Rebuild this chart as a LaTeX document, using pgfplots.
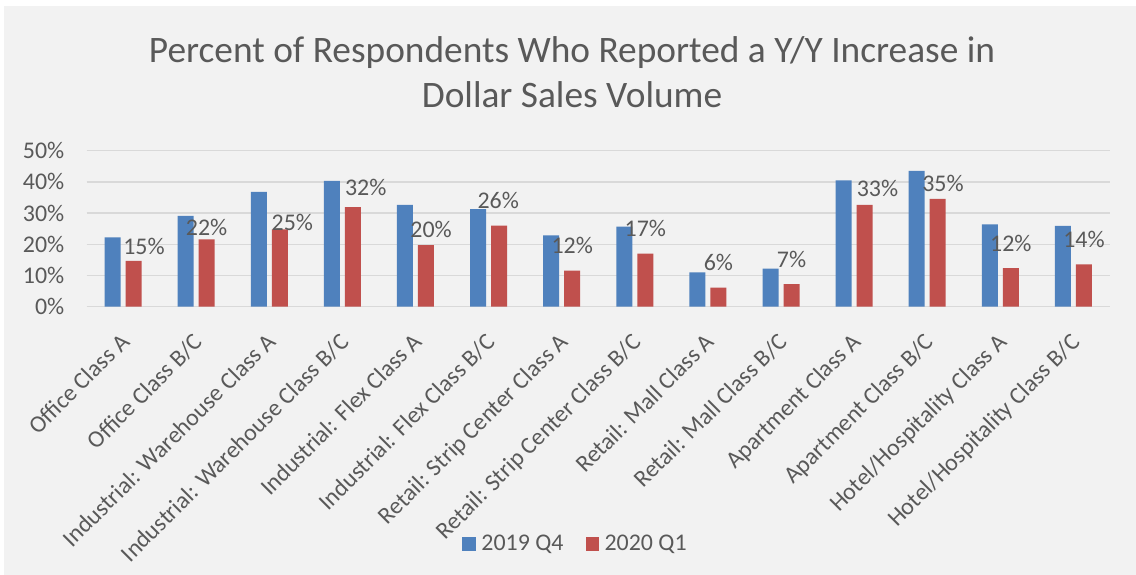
\documentclass[border=0pt]{standalone}
\usepackage{fontspec}
\setmainfont{Carlito}
\usepackage{pgfplots}
\usepackage{pgfplotstable}
\pgfplotsset{compat=1.18}
\definecolor{bgc}{HTML}{F2F2F2}
\definecolor{textc}{HTML}{595959}
\definecolor{gridc}{HTML}{D9D9D9}
\definecolor{bluec}{HTML}{4F81BD}
\definecolor{redc}{HTML}{C0504D}
\pgfplotstableread{
x  b19   r20   dx    dy
0  22.2  14.7  10.4  14
1  29.1  21.6  0     12
2  36.8  24.8  12.6  6.5
3  40.3  31.9  12.9  19.5
4  32.6  19.7  5.1   15.8
5  31.3  26.0  -0.9  24.9
6  22.9  11.6  0     25
7  25.7  17.0  0     25
8  11.0  6.1   0     25
9  12.2  7.2   0     25
10 40.5  32.6  12.9  17
11 43.5  34.6  5.2   15.3
12 26.4  12.4  0     25
13 25.9  13.6  0     25
}\datatable
\begin{document}
\begin{tikzpicture}
\fill[white] (0bp,0bp) rectangle (1136bp,575bp);
\fill[bgc] (4bp,0bp) rectangle (1136bp,569bp);
\node[anchor=base, text=textc, font=\fontsize{37.5}{45}\selectfont, inner sep=0pt] at (572bp,512.3bp) {Percent of Respondents Who Reported a Y/Y Increase in};
\node[anchor=base, text=textc, font=\fontsize{37.5}{45}\selectfont, inner sep=0pt] at (572bp,467.7bp) {Dollar Sales Volume};
\begin{axis}[
  at={(86.5bp,268.3bp)}, anchor=south west,
  scale only axis, width=1023.5bp, height=156bp,
  ybar=5bp, bar width=16bp,
  xmin=-0.5, xmax=13.5, ymin=0, ymax=50,
  xtick={0,...,13},
  xticklabels={Office Class A, Office Class B/C, Industrial: Warehouse Class A, Industrial: Warehouse Class B/C, Industrial: Flex Class A, Industrial: Flex Class B/C, Retail: Strip Center Class A, Retail: Strip Center Class B/C, Retail: Mall Class A, Retail: Mall Class B/C, Apartment Class A, Apartment Class B/C, Hotel/Hospitality Class A, Hotel/Hospitality Class B/C},
  ytick={0,10,20,30,40,50},
  yticklabels={0\%,10\%,20\%,30\%,40\%,50\%},
  ymajorgrids, grid style={draw=gridc, line width=1.4bp},
  axis line style={draw=none}, tick style={draw=none}, major tick length=0pt,
  tick label style={font=\fontsize{24}{28}\selectfont, text=textc},
  yticklabel style={anchor=east, inner sep=0pt, xshift=-22bp},
  xticklabel style={xshift=-4bp, yshift=-25bp, rotate=45, anchor=north east, inner sep=0pt},
  /pgf/number format/assume math mode=true,
  legend style={at={(0.4778,-1.521)}, anchor=center, draw=none, fill=none,
    legend columns=2, font=\fontsize{24}{28}\selectfont, text=textc,
    /tikz/every even column/.append style={column sep=20bp}},
  legend image code/.code={\fill[#1] (0bp,-6.85bp) rectangle (13.7bp,6.85bp); \path (17bp,0bp);},
]
\addplot[fill=bluec, draw=none] table[x=x, y=b19] {\datatable};
\addlegendentry{2019 Q4}
\addplot[fill=redc, draw=none,
  visualization depends on={\thisrow{dx} \as \dx},
  visualization depends on={\thisrow{dy} \as \dy},
  point meta=y,
  nodes near coords={\pgfmathprintnumber[fixed,precision=0,assume math mode=true]{\pgfplotspointmeta}\%},
  nodes near coords style={anchor=center, inner sep=0pt, text=textc, font=\fontsize{24}{28}\selectfont, xshift=\dx bp, yshift=\dy bp},
] table[x=x, y=r20] {\datatable};
\addlegendentry{2020 Q1}
\end{axis}
\end{tikzpicture}
\end{document}
